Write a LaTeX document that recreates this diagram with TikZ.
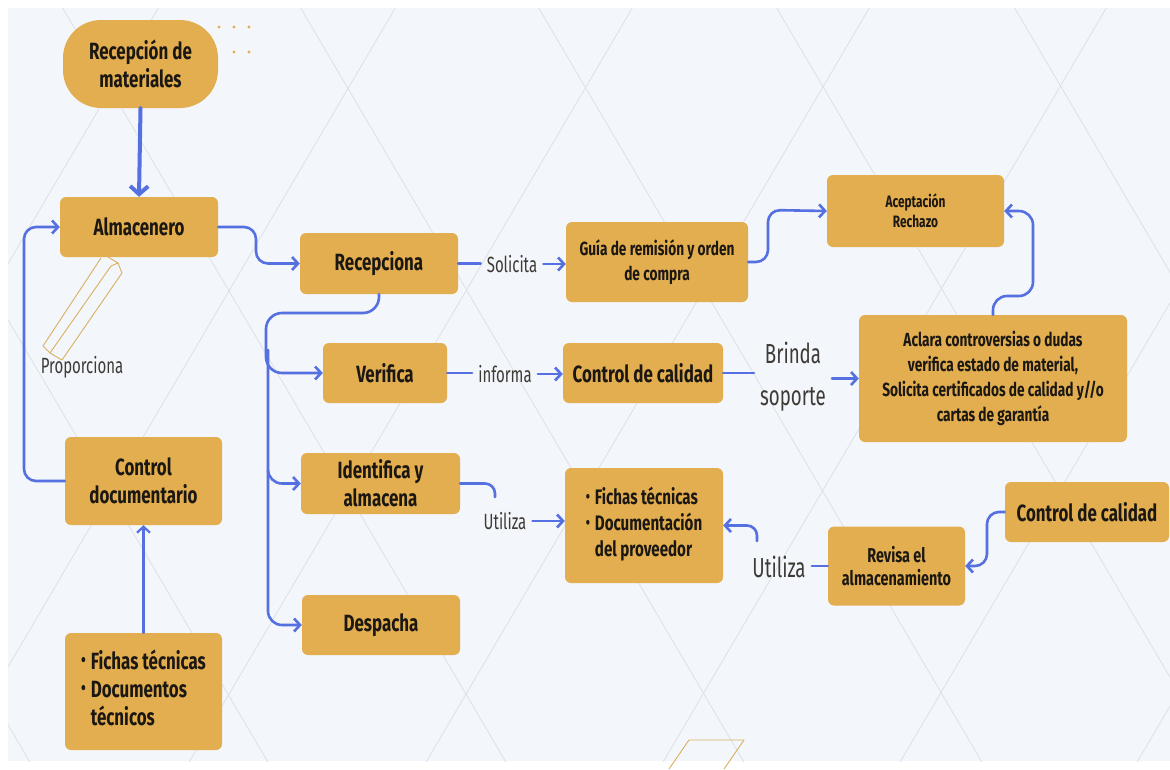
\documentclass[tikz,border=0pt]{standalone}
\usepackage{fontspec}
\setmainfont{Fira Sans}
\newfontfamily\boxfont[FakeStretch=0.72]{Fira Sans}
\newfontfamily\tagfont[FakeStretch=0.68]{Fira Sans}
\usetikzlibrary{arrows.meta}

\definecolor{panel}{HTML}{F3F6FA}
\definecolor{gold}{HTML}{E3AE4F}
\definecolor{link}{HTML}{5570E0}
\definecolor{ink}{HTML}{1B1712}
\definecolor{lattice}{HTML}{DDE1E6}
\definecolor{decoline}{HTML}{D9B060}

\newcommand\dotmark{\raisebox{2.5pt}{\scalebox{0.8}{\textbullet}}}

\begin{document}
\begin{tikzpicture}[x=1pt,y=-1pt,
  box/.style={fill=gold, rounded corners=6pt, inner sep=2pt, align=center, text=ink,
    font=\boxfont\bfseries\fontsize{23.5}{28}\selectfont},
  midbox/.style={box, font=\boxfont\bfseries\fontsize{19}{25}\selectfont},
  tag/.style={text=ink!85, inner sep=6pt, font=\tagfont\fontsize{22}{24}\selectfont},
  bigtag/.style={tag, align=center, font=\tagfont\fontsize{27.5}{42}\selectfont},
  wire/.style={draw=link, line width=2.6pt, line cap=round, line join=round, rounded corners=12pt},
  flow/.style={wire, -{Straight Barb[length=6pt,width=13pt]}},
  latt/.style={draw=lattice, line width=0.8pt},
  deco/.style={draw=decoline, line width=0.9pt, line join=round}
]
\useasboundingbox (0,0) rectangle (1170,769);

% background panel with diamond lattice
\fill[white] (0,0) rectangle (1170,769);
\fill[panel] (8,8) rectangle (1170,761);
\begin{scope}
  \clip (8,8) rectangle (1170,761);
  \foreach \k in {-3,...,5} \draw[latt] ({58+238*\k},0) -- ({510+238*\k},769);
  \foreach \k in {-2,...,6} \draw[latt] ({400+237*\k},0) -- ({-52+237*\k},769);
\end{scope}

% decorative outlines
\draw[deco] (101,258) -- (43,346) -- (50,353) -- (111,266);
\draw[deco] (108,257) -- (118,263) -- (122,273) -- (62,360);
\draw[deco] (111,266) -- (118,263);
\draw[deco] (50,353) -- (62,360);
\draw[deco] (669,769) -- (689,740) -- (744,740) -- (724,769);
\foreach \p in {(219,27),(234,27),(249,27),(234,52),(249,52)} \fill[gold] \p circle (1.6pt);

% boxes
\node[box, minimum width=155pt, minimum height=88pt, rounded corners=38pt] (rm) at (140.5,64) {Recepción de\\materiales};
\node[box, minimum width=158pt, minimum height=60pt] (alm) at (139,227) {Almacenero};
\node[box, minimum width=157pt, minimum height=88pt] (cdoc) at (143.5,481) {Control\\documentario};
\node[box, minimum width=157pt, minimum height=117pt] (fichasA) at (143.5,691.5)
  {\begin{tabular}{@{}l@{\hspace{5pt}}l@{}}\dotmark & Fichas técnicas\\ \dotmark & Documentos\\ & técnicos\end{tabular}};
\node[box, minimum width=158pt, minimum height=61pt] (recep) at (379,263.5) {Recepciona};
\node[midbox, minimum width=182pt, minimum height=80pt] (guia) at (657,262) {Guía de remisión y orden\\de compra};
\node[box, font=\boxfont\bfseries\fontsize{16.5}{20}\selectfont, minimum width=177pt, minimum height=72pt] (acep) at (915.5,211) {Aceptación\\Rechazo};
\node[midbox, minimum width=268pt, minimum height=127pt] (aclara) at (993,378.5)
  {Aclara controversias o dudas\\verifica estado de material,\\Solicita certificados de calidad y//o\\cartas de garantía};
\node[box, minimum width=124pt, minimum height=60pt] (verif) at (385,373) {Verifica};
\node[box, minimum width=160pt, minimum height=60pt] (cdcA) at (643,373) {Control de calidad};
\node[box, minimum width=159pt, minimum height=61pt] (ident) at (380.5,483.5) {Identifica y\\almacena};
\node[box, minimum width=158pt, minimum height=60pt] (desp) at (381,625) {Despacha};
\node[box, font=\boxfont\bfseries\fontsize{21}{26}\selectfont, minimum width=158pt, minimum height=115pt] (fichasB) at (644,525.5)
  {\begin{tabular}{@{}l@{\hspace{5pt}}l@{}}\dotmark & Fichas técnicas\\ \dotmark & Documentación\\ & del proveedor\end{tabular}};
\node[box, font=\boxfont\bfseries\fontsize{20}{23}\selectfont, minimum width=137pt, minimum height=79pt] (revisa) at (896.5,566) {Revisa el\\almacenamiento};
\node[box, minimum width=164pt, minimum height=60pt] (cdcB) at (1087,512) {Control de calidad};

% connector labels
\node[tag] (solic) at (512,264) {Solicita};
\node[tag] (inform) at (505,374) {informa};
\node[bigtag] (brinda) at (793,377) {Brinda\\soporte};
\node[tag] (utilA) at (505,521) {Utiliza};
\node[bigtag] (utilB) at (779,567) {Utiliza};
\node[tag, inner sep=0pt] (prop) at (82,367) {Proporciona};

\coordinate (ihook) at (495,497);
\coordinate (ubend) at (757,541);

% connectors
\draw[wire, line width=4pt, -{Straight Barb[length=8pt,width=18pt]}] (rm.south) -- (alm.north);
\draw[flow] (alm.east) -- (256,227) -- (256,263.5) -- (recep.west);
\draw[flow] (cdoc.west) -- (24,481) -- (24,227) -- (alm.west);
\draw[flow, line width=2.2pt] (fichasA.north) -- (cdoc.south);

\draw[flow, rounded corners=16pt] (recep.south) -- (379,313) -- (266,313) -- (266,373) -- (verif.west);
\draw[flow, rounded corners=14pt] (268,350) -- (268,483.5) -- (ident.west);
\draw[flow, rounded corners=14pt] (268,470) -- (268,625) -- (desp.west);

\draw[wire] (recep.east) -- (recep.east -| solic.west);
\draw[flow] (solic.east) -- (solic.east -| guia.west);
\draw[flow] (guia.east) -- (768,262) -- (768,210) -- (acep.west);
\draw[flow, rounded corners=14pt] (aclara.north) -- (993,296) -- (1033,296) -- (1033,211) -- (acep.east);

\draw[wire] (verif.east) -- (verif.east -| inform.west);
\draw[flow] (inform.east) -- (inform.east -| cdcA.west);
\draw[wire] (cdcA.east) -- (cdcA.east -| brinda.west);
\draw[flow] (brinda.east |- aclara.west) -- (aclara.west);

\draw[wire, rounded corners=10pt] (ident.east) -- (495,483.5) -- (ihook);
\draw[flow] (utilA.east) -- (utilA.east -| fichasB.west);
\draw[flow] (cdcB.west) -- (987,512) -- (987,566) -- (revisa.east);
\draw[wire] (revisa.west) -- (revisa.west -| utilB.east);
\draw[flow, rounded corners=10pt] (ubend) -- (757,525.5) -- (fichasB.east);

\end{tikzpicture}
\end{document}
